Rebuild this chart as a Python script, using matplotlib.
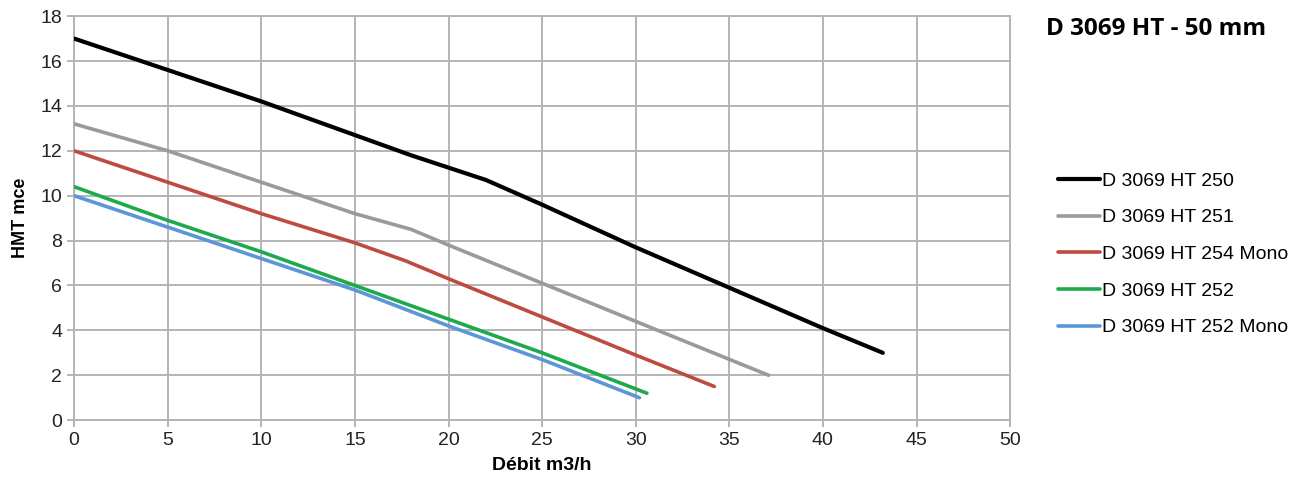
import matplotlib
matplotlib.use("Agg")
import matplotlib.pyplot as plt

plt.rcParams["font.family"] = ["Liberation Sans", "DejaVu Sans"]

# pump curves: flow (m3/h) vs head (mce)
labels = [
    "D 3069 HT 250",
    "D 3069 HT 251",
    "D 3069 HT 254 Mono",
    "D 3069 HT 252",
    "D 3069 HT 252 Mono",
]
colors = ["#000000", "#9a9a9a", "#be4b40", "#1eaa4c", "#5b97d6"]

x_250 = [0, 5, 10, 15, 18, 22, 25, 30, 35, 40, 43.2]
y_250 = [17.0, 15.6, 14.2, 12.7, 11.8, 10.7, 9.6, 7.7, 5.9, 4.1, 3.0]

x_251 = [0, 5, 10, 15, 18, 20, 25, 30, 37.1]
y_251 = [13.2, 12.0, 10.6, 9.2, 8.5, 7.8, 6.1, 4.4, 2.0]

x_254m = [0, 5, 10, 15, 17.7, 20, 25, 30, 34.2]
y_254m = [12.0, 10.6, 9.2, 7.9, 7.1, 6.3, 4.6, 2.9, 1.5]

x_252 = [0, 5, 10, 15, 20, 25, 30.6]
y_252 = [10.4, 8.9, 7.5, 6.0, 4.5, 3.0, 1.2]

x_252m = [0, 5, 10, 15, 20, 25, 30.2]
y_252m = [10.0, 8.6, 7.2, 5.8, 4.2, 2.7, 1.0]

series = [(x_250, y_250), (x_251, y_251), (x_254m, y_254m), (x_252, y_252), (x_252m, y_252m)]
widths = [3.0, 2.6, 2.6, 2.6, 2.6]

fig = plt.figure(figsize=(13.0, 4.88), dpi=100)
ax = fig.add_axes([0.057, 0.139, 0.720, 0.828])

for (xs, ys), lab, c, lw in zip(series, labels, colors, widths):
    ax.plot(xs, ys, color=c, lw=lw, label=lab, solid_capstyle="round", zorder=3)

ax.set_xlim(0, 50)
ax.set_ylim(0, 18)
ax.set_xticks(range(0, 51, 5))
ax.set_yticks(range(0, 19, 2))
ax.grid(True, color="#b4b4b4", lw=1.4)
for sp in ax.spines.values():
    sp.set_color("#b4b4b4")
    sp.set_linewidth(1.4)
ax.tick_params(colors="#b4b4b4", width=1.4, length=5, labelcolor="#222222", labelsize=14)

ax.set_xlabel("Débit m3/h", fontsize=14, fontweight="bold", labelpad=6)
ax.set_ylabel("HMT mce", fontsize=13, fontweight="bold", labelpad=8)

fig.text(0.805, 0.94, "D 3069 HT - 50 mm", fontsize=17.5, fontweight="bold",
         family=["Open Sans", "DejaVu Sans"], ha="left", va="center")

leg = fig.legend(loc="upper left", bbox_to_anchor=(0.800, 0.683), frameon=False,
                 fontsize=14, handlelength=2.2, handletextpad=0.1, labelspacing=0.98)

fig.savefig("out.png", dpi=100)
